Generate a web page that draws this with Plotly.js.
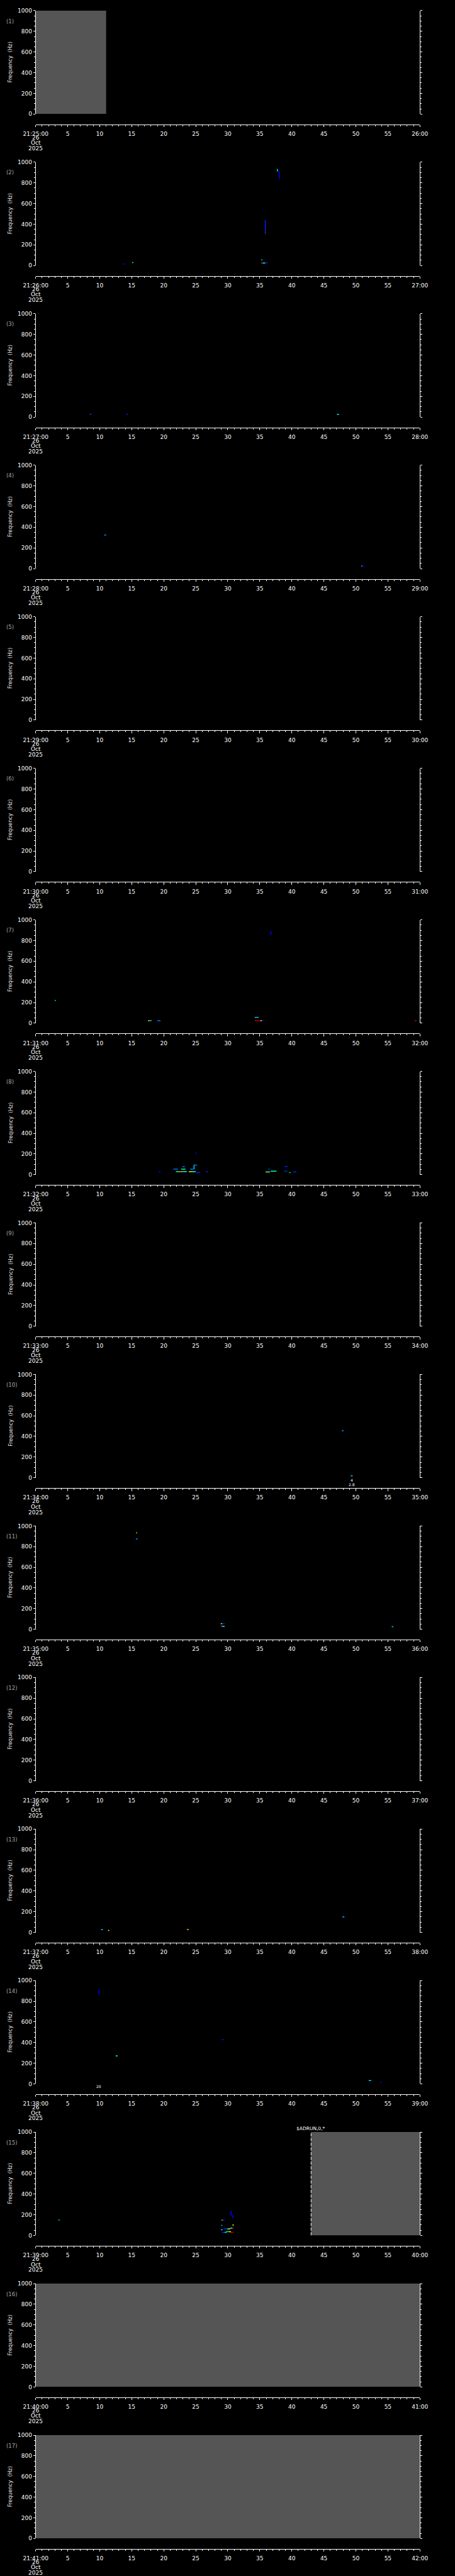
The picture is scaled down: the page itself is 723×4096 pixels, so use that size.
<!DOCTYPE html>
<html><head><meta charset="utf-8">
<script src="https://cdn.plot.ly/plotly-3.0.1.min.js"></script>
<style>html,body{margin:0;padding:0;background:#000;}#chart{width:723px;height:4096px;}</style>
</head><body><div id="chart"></div>
<script>
// ---------------- data ----------------
const hourLabel = "21";
const panelStartMinute = [25,26,27,28,29,30,31,32,33,34,35,36,37,38,39,40,41];
const dateLines = ["26", "Oct", "2025"];
const xTickSeconds = [0,5,10,15,20,25,30,35,40,45,50,55,60];
const yTickVals = [0,200,400,600,800,1000];
const yLabel = "Frequency\u00a0\u00a0(Hz)";

// no-data intervals (grey), seconds within the panel minute
const gapPanel = [1, 15, 16, 17];
const gapStart = [0, 43, 0, 0];
const gapEnd   = [11, 60, 60, 60];

// event marker
const eventPanel = [15];
const eventTime  = [43];
const eventLabel = ["$ADRUN,0,*"];

// small text notes under some panels
const notePanel = [10, 10, 14];
const noteTime  = [49.35, 49.35, 9.9];
const noteRow   = [0, 1, 0];
const noteText  = ["4", "2.8", "20"];

// spectral features: panel, start/end second, start/end frequency (Hz), intensity level (0..1)
const featPanel = [
  2,2,2,2,2,2,2,2,2,2,
  3,3,3,
  4,4,4,
  7,7,7,7,7,7,7,7,7,7,7,7,
  8,8,8,8,8,8,8,8,8,8,8,8,8,8,8,8,8,8,8,8,8,8,
  10,10,
  11,11,11,11,11,11,11,
  13,13,13,13,
  14,14,14,14,14,
  15,15,15,15,15,15,15,15,15,15,15,15,15,15,15,15,15,15,15,15,15,15,15
];
const featT0 = [
  37.72,38.02,35.85,35.78,13.6,15.05,35.25,35.2,35.45,35.85,
  8.5,14.2,47.05,
  10.7,50.85,51.0,
  36.72,36.6,3.0,17.55,17.75,19.0,34.2,34.2,35.1,35.3,59.2,59.35,
  24.95,24.7,24.72,22.9,21.5,22.7,24.1,19.2,21.9,22.6,23.0,23.9,24.5,25.1,26.6,36.3,35.9,36.7,38.9,38.8,39.6,40.2,
  47.8,49.2,
  15.72,15.65,28.9,29.1,28.9,29.1,55.6,
  10.2,11.3,23.6,47.9,
  9.87,29.1,12.5,52.0,53.8,
  3.55,30.5,30.5,30.75,28.94,29.1,29.25,28.94,30.8,28.94,29.05,29.35,29.87,30.1,30.4,30.7,29.08,29.5,29.75,30.2,30.4,30.6,30.78
];
const featT1 = [
  37.78,38.05,35.87,35.9,13.9,15.25,35.4,35.45,35.85,36.2,
  8.7,14.4,47.35,
  11.0,51.0,51.35,
  36.76,36.72,3.15,17.75,18.1,19.5,34.8,35.1,35.3,35.55,59.35,59.5,
  25.2,25.2,24.74,23.3,22.2,23.4,24.7,19.5,22.6,23.0,23.6,24.5,25.0,25.7,26.9,36.6,36.6,37.6,39.3,39.3,39.8,40.7,
  48.1,49.5,
  15.8,15.9,29.1,29.5,29.1,29.5,55.85,
  10.5,11.5,23.9,48.2,
  9.9,29.3,12.8,52.4,53.95,
  3.75,30.5,30.75,30.8,29.1,29.25,29.52,29.17,30.85,29.05,29.24,29.82,30.1,30.4,30.7,30.9,29.5,29.82,30.2,30.5,30.6,30.9,30.82
];
const featF0 = [
  935,912,440,313,15,28,54,24,24,26,
  26,26,26,
  325,24,24,
  892,860,220,24,25,23,56,23,24,25,23,23,
  209,93,93,77,54,54,54,29,29,29,29,30,30,20,29,54,26,34,80,34,20,26,
  454,18,
  937,874,54,54,29,29,25,
  26,18,26,150,
  911,428,271,32,16,
  148,240,200,190,147,147,147,97,107,54,54,68,62,64,71,71,28,30,36,36,30,30,190
];
const featF1 = [
  910,837,312,313,15,28,54,24,24,26,
  26,26,26,
  325,24,24,
  860,858,220,24,25,23,56,23,24,25,23,23,
  209,93,54,77,54,54,54,29,29,29,29,30,30,20,29,54,26,34,80,34,20,26,
  454,18,
  930,874,54,54,29,29,25,
  26,18,26,150,
  866,428,271,32,16,
  148,200,190,190,147,147,147,97,93,54,54,62,62,64,71,71,28,30,36,36,30,30,167
];
const featLevel = [
  0.55,0.15,0.2,0.85,0.15,0.45,0.45,0.85,0.45,0.2,
  0.25,0.2,0.45,
  0.35,0.55,0.15,
  0.15,0.15,0.45,0.7,0.4,0.3,0.4,0.95,0.7,0.2,0.85,0.2,
  0.15,0.3,0.4,0.3,0.3,0.5,0.3,0.15,0.5,0.75,0.45,0.65,0.45,0.2,0.2,0.2,0.6,0.5,0.2,0.2,0.55,0.2,
  0.35,0.4,
  0.7,0.35,0.7,0.2,0.85,0.45,0.4,
  0.4,0.7,0.75,0.4,
  0.15,0.2,0.45,0.4,0.2,
  0.4,0.15,0.15,0.15,0.85,0.6,0.15,0.35,0.7,0.7,0.35,0.2,0.45,0.7,0.45,0.85,0.2,0.5,0.55,0.7,0.85,0.95,0.15
];

// ---------------- layout helpers ----------------
const W = 723, H = 4096, S = 0.706;
const P = H / panelStartMinute.length;
const X0 = 80.3 * S, X1 = 945.1 * S;
const PLOT_TOP = 24 * S, PLOT_BOT = 256.7 * S, AXIS_Y = 280 * S;
const FONT = "DejaVu Sans";
const xDom = [X0 / W, X1 / W];
const py = px => 1 - px / H;

const jetStops = [
  [0, [0,0,140]], [0.15, [0,0,255]], [0.35, [0,150,255]], [0.45, [0,255,255]],
  [0.55, [0,255,120]], [0.7, [255,255,0]], [0.85, [255,0,0]], [1, [150,0,0]]
];
function jet(v) {
  for (let i = 1; i < jetStops.length; i++) {
    if (v <= jetStops[i][0]) {
      const a = jetStops[i-1], b = jetStops[i];
      const f = (v - a[0]) / (b[0] - a[0]);
      const c = a[1].map((x, j) => Math.round(x + f * (b[1][j] - x)));
      return `rgb(${c[0]},${c[1]},${c[2]})`;
    }
  }
  return 'rgb(150,0,0)';
}
const sfx = k => (k === 1 ? '' : String(k));
const pad2 = n => (n < 10 ? '0' : '') + n;

const traces = [];
const layout = {
  width: W, height: H, autosize: false,
  margin: {l:0, r:0, t:0, b:0, pad:0},
  paper_bgcolor: '#000', plot_bgcolor: '#000',
  showlegend: false,
  font: {family: FONT, color: '#ffffff', size: 9},
  annotations: []
};

panelStartMinute.forEach((m, idx) => {
  const k = idx + 1;
  const base = idx * P;
  const xa = 'xaxis' + sfx(k), ya = 'yaxis' + sfx(k);
  // empty trace so that every panel's axes exist
  traces.push({type: 'scatter', mode: 'lines', xaxis: 'x' + sfx(k), yaxis: 'y' + sfx(k),
               x: [null], y: [null], hoverinfo: 'skip', line: {width: 0}});
  const ticktext = xTickSeconds.map((s, i) => {
    if (i === 0) return `${hourLabel}:${pad2(m)}:00`;
    if (i === xTickSeconds.length - 1) return `${pad2(m + 1)}:00`;
    return String(s);
  });
  layout[xa] = {
    domain: xDom, range: [0, 60], anchor: 'free', position: py(base + AXIS_Y),
    tickmode: 'array', tickvals: xTickSeconds, ticktext: ticktext,
    ticks: 'outside', ticklen: 3.4, tickwidth: 1, tickcolor: '#fff',
    minor: {dtick: 1, tick0: 0, ticks: 'outside', ticklen: 2, tickwidth: 1, tickcolor: '#fff', showgrid: false},
    showline: true, linecolor: '#fff', linewidth: 1,
    showgrid: false, zeroline: false, fixedrange: true,
    tickfont: {family: FONT, size: 9, color: '#fff'}, ticklabelstandoff: 3
  };
  layout[ya] = {
    domain: [py(base + PLOT_BOT), py(base + PLOT_TOP)], range: [0, 1000], anchor: 'x' + sfx(k),
    tickmode: 'array', tickvals: yTickVals,
    ticks: 'outside', ticklen: 3, tickwidth: 1, tickcolor: '#fff',
    minor: {dtick: 50, tick0: 0, ticks: 'outside', ticklen: 1.6, tickwidth: 1, tickcolor: '#fff', showgrid: false},
    showline: true, linecolor: '#fff', linewidth: 1, mirror: 'allticks',
    showgrid: false, zeroline: false, fixedrange: true,
    tickfont: {family: FONT, size: 9, color: '#fff'}
  };
  layout.annotations.push({
    xref: 'paper', yref: 'paper', x: 8.3 / W, y: py(base + 33.5), xanchor: 'left', yanchor: 'middle',
    text: `(${k})`, showarrow: false, font: {family: FONT, size: 8.5, color: '#a8a8a8'}
  });
  layout.annotations.push({
    xref: 'paper', yref: 'paper', x: 16.2 / W, y: py(base + (PLOT_TOP + PLOT_BOT) / 2), xanchor: 'center', yanchor: 'middle',
    text: yLabel, textangle: -90, showarrow: false, font: {family: FONT, size: 8.3, color: '#e6e6e6'}
  });
  const dateOff = [310.2, 322, 334.6];
  dateLines.forEach((d, j) => {
    layout.annotations.push({
      xref: 'paper', yref: 'paper', x: X0 / W, y: py(base + dateOff[j] * S), xanchor: 'center', yanchor: 'middle',
      text: d, showarrow: false, font: {family: FONT, size: 9, color: '#fff'}
    });
  });
});

gapPanel.forEach((p, i) => {
  traces.push({
    type: 'scatter', mode: 'lines', xaxis: 'x' + sfx(p), yaxis: 'y' + sfx(p),
    x: [gapStart[i], gapEnd[i], gapEnd[i], gapStart[i], gapStart[i]],
    y: [0, 0, 1000, 1000, 0],
    fill: 'toself', fillcolor: '#555555', line: {width: 0, color: '#555555'}, hoverinfo: 'skip'
  });
});

featPanel.forEach((p, i) => {
  traces.push({
    type: 'scatter', mode: 'lines', xaxis: 'x' + sfx(p), yaxis: 'y' + sfx(p),
    x: [featT0[i], featT1[i]], y: [featF0[i], featF1[i]],
    line: {color: jet(featLevel[i]), width: 1.5}, hoverinfo: 'skip'
  });
});

eventPanel.forEach((p, i) => {
  traces.push({
    type: 'scatter', mode: 'lines', xaxis: 'x' + sfx(p), yaxis: 'y' + sfx(p),
    x: [eventTime[i], eventTime[i]], y: [0, 1000],
    line: {color: '#ffffff', width: 1, dash: '5px,2.5px'}, hoverinfo: 'skip'
  });
  layout.annotations.push({
    xref: 'x' + sfx(p), yref: 'paper', x: eventTime[i], y: py((p - 1) * P + 15.8 * S),
    xanchor: 'center', yanchor: 'middle', text: eventLabel[i], showarrow: false,
    font: {family: FONT, size: 7.5, color: '#fff'}
  });
});

notePanel.forEach((p, i) => {
  layout.annotations.push({
    xref: 'x' + sfx(p), yref: 'paper', x: noteTime[i], y: py((p - 1) * P + (262.7 + noteRow[i] * 9.4) * S),
    xanchor: 'center', yanchor: 'middle', text: noteText[i], showarrow: false,
    font: {family: FONT, size: 6, color: '#fff'}
  });
});

Plotly.newPlot('chart', traces, layout, {staticPlot: true, displayModeBar: false});
</script>
</body></html>
